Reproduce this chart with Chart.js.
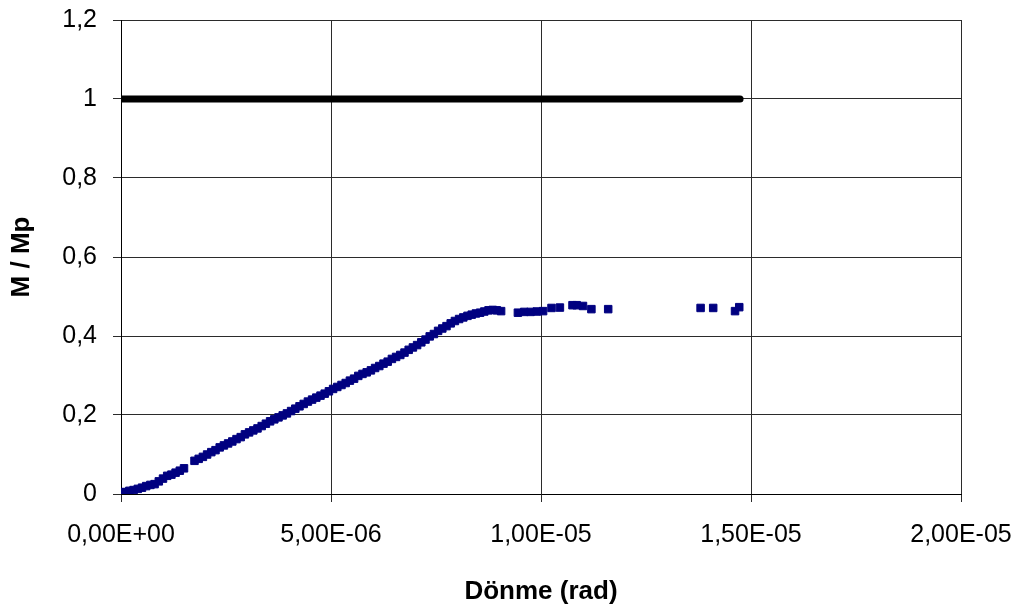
<!DOCTYPE html>
<html>
<head>
<meta charset="utf-8">
<script src="https://cdn.jsdelivr.net/npm/chart.js@4"></script>
<style>
  html, body { margin: 0; padding: 0; background: #fff; }
  #wrap { width: 1022px; height: 612px; }
</style>
</head>
<body>
<div id="wrap"><canvas id="c" width="1022" height="612"></canvas></div>
<script>
// Measured rotation (rad) and normalised moment M/Mp
const rotation = [
  0.0e-6, 0.1e-6, 0.2e-6, 0.3e-6, 0.4e-6, 0.5e-6, 0.6e-6, 0.7e-6, 0.8e-6, 0.9e-6,
  1.0e-6, 1.1e-6, 1.2e-6, 1.3e-6, 1.4e-6, 1.5e-6,
  1.75e-6, 1.85e-6, 1.95e-6, 2.05e-6, 2.15e-6, 2.25e-6, 2.35e-6, 2.45e-6, 2.55e-6, 2.65e-6,
  2.75e-6, 2.85e-6, 2.95e-6, 3.05e-6, 3.15e-6, 3.25e-6, 3.35e-6, 3.45e-6, 3.55e-6, 3.65e-6,
  3.75e-6, 3.85e-6, 3.95e-6, 4.05e-6, 4.15e-6, 4.25e-6, 4.35e-6, 4.45e-6, 4.55e-6, 4.65e-6,
  4.75e-6, 4.85e-6, 4.95e-6, 5.05e-6, 5.15e-6, 5.25e-6, 5.35e-6, 5.45e-6, 5.55e-6, 5.65e-6,
  5.75e-6, 5.85e-6, 5.95e-6, 6.05e-6, 6.15e-6, 6.25e-6, 6.35e-6, 6.45e-6, 6.55e-6, 6.65e-6,
  6.75e-6, 6.85e-6, 6.95e-6, 7.05e-6, 7.15e-6, 7.25e-6, 7.35e-6, 7.45e-6, 7.55e-6, 7.65e-6,
  7.75e-6, 7.85e-6, 7.95e-6, 8.05e-6, 8.15e-6, 8.25e-6, 8.35e-6, 8.45e-6, 8.55e-6, 8.65e-6,
  8.75e-6, 8.85e-6, 8.95e-6, 9.05e-6,
  9.45e-6, 9.6e-6, 9.75e-6, 9.9e-6, 10.05e-6, 10.25e-6, 10.45e-6, 10.75e-6, 10.85e-6, 11.0e-6,
  11.2e-6, 11.6e-6, 13.8e-6, 14.1e-6, 14.62e-6, 14.72e-6
];
const momentRatio = [
  0.004, 0.005, 0.008, 0.010, 0.013, 0.016, 0.020, 0.023, 0.025, 0.032,
  0.039, 0.046, 0.049, 0.054, 0.059, 0.065,
  0.084, 0.089, 0.094, 0.100, 0.106, 0.111, 0.118, 0.123, 0.128, 0.133,
  0.139, 0.144, 0.151, 0.156, 0.161, 0.166, 0.172, 0.178, 0.184, 0.189,
  0.194, 0.199, 0.204, 0.210, 0.216, 0.222, 0.228, 0.234, 0.239, 0.244,
  0.249, 0.254, 0.260, 0.266, 0.271, 0.276, 0.281, 0.287, 0.292, 0.299,
  0.304, 0.308, 0.313, 0.319, 0.324, 0.330, 0.335, 0.342, 0.347, 0.352,
  0.358, 0.365, 0.371, 0.377, 0.384, 0.391, 0.399, 0.405, 0.413, 0.419,
  0.425, 0.432, 0.438, 0.443, 0.447, 0.451, 0.454, 0.457, 0.459, 0.462,
  0.465, 0.466, 0.465, 0.463,
  0.459, 0.461, 0.461, 0.462, 0.463, 0.471, 0.472, 0.478, 0.478, 0.476,
  0.468, 0.468, 0.471, 0.471, 0.463, 0.473
];

// Plastic moment reference line (M/Mp = 1)
const plasticRotation = [0, 14.74e-6];
const plasticRatio = [1, 1];

// Axis ticks
const xTickValues = [0, 5e-6, 1e-5, 1.5e-5, 2e-5];
const xTickLabels = ['0,00E+00', '5,00E-06', '1,00E-05', '1,50E-05', '2,00E-05'];
const yTickValues = [0, 0.2, 0.4, 0.6, 0.8, 1.0, 1.2];
const yTickLabels = ['0', '0,2', '0,4', '0,6', '0,8', '1', '1,2'];

const measured = rotation.map((x, i) => ({ x, y: momentRatio[i] }));
const plastic = plasticRotation.map((x, i) => ({ x, y: plasticRatio[i] }));

const FONT = '"Liberation Sans", Arial, sans-serif';
const GRID = '#2b2b2b';

// fixed axis box sizes; label overhang is absorbed by the layout padding
function fixX(s) {
  s.height = 118;
  s.paddingLeft = 0; s.paddingRight = 0; s.paddingTop = 0; s.paddingBottom = 0;
}
function fixY(s) {
  s.width = 121;
  s.paddingLeft = 0; s.paddingRight = 0; s.paddingTop = 0; s.paddingBottom = 0;
}

new Chart(document.getElementById('c'), {
  type: 'scatter',
  data: {
    datasets: [
      {
        type: 'line',
        data: plastic,
        borderColor: '#000',
        borderWidth: 7,
        borderCapStyle: 'round',
        pointRadius: 0,
        fill: false,
        clip: 0,
        order: 2
      },
      {
        data: measured,
        pointStyle: 'rect',
        pointRadius: 5.3,
        backgroundColor: '#000080',
        borderColor: '#000080',
        borderWidth: 1,
        order: 1
      }
    ]
  },
  options: {
    responsive: false,
    animation: false,
    devicePixelRatio: 1,
    layout: { padding: { top: 20, right: 61, left: 0, bottom: 0 } },
    plugins: { legend: { display: false }, tooltip: { enabled: false } },
    scales: {
      x: {
        type: 'linear',
        min: 0,
        max: 2e-5,
        afterBuildTicks: s => { s.ticks = xTickValues.map(v => ({ value: v })); },
        afterFit: fixX,
        ticks: {
          callback: (v, i) => xTickLabels[i],
          font: { family: FONT, size: 25 },
          color: '#000',
          padding: 18,
          maxRotation: 0,
          autoSkip: false
        },
        grid: { color: GRID, lineWidth: 1, tickLength: 8, drawTicks: true },
        border: { color: '#000', width: 1 },
        title: {
          display: true,
          text: 'Dönme (rad)',
          font: { family: FONT, size: 26, weight: 'bold' },
          color: '#000',
          padding: { top: 0, bottom: 5 }
        }
      },
      y: {
        type: 'linear',
        min: 0,
        max: 1.2,
        afterBuildTicks: s => { s.ticks = yTickValues.map(v => ({ value: v })); },
        afterFit: fixY,
        ticks: {
          callback: (v, i) => yTickLabels[i],
          font: { family: FONT, size: 25 },
          color: '#000',
          padding: 16,
          autoSkip: false
        },
        grid: { color: GRID, lineWidth: 1, tickLength: 8, drawTicks: true },
        border: { color: '#000', width: 1 },
        title: {
          display: true,
          text: 'M / Mp',
          font: { family: FONT, size: 26, weight: 'bold' },
          color: '#000',
          padding: { top: 6, bottom: 0 }
        }
      }
    }
  }
});
</script>
</body>
</html>
